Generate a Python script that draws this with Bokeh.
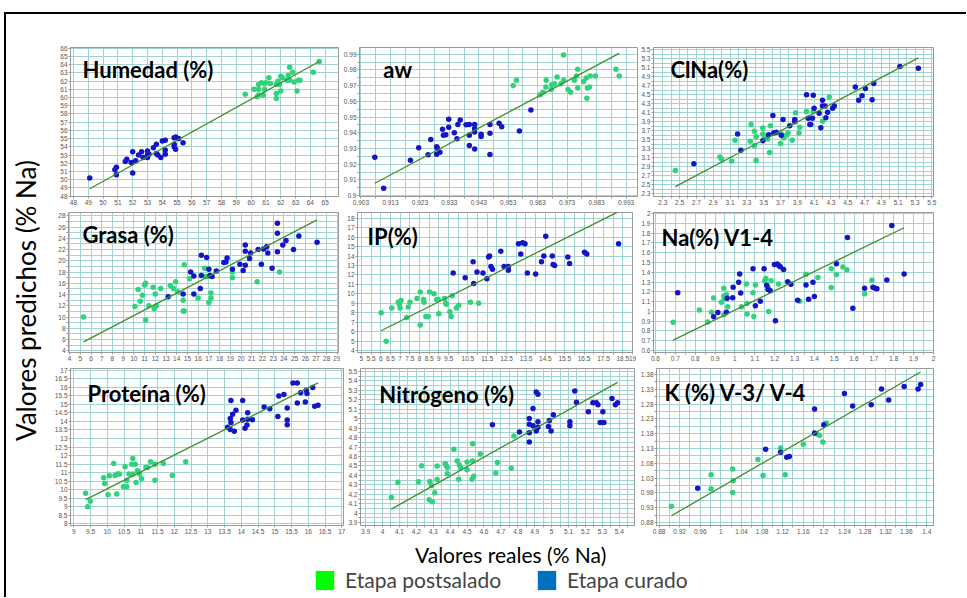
import math
from bokeh.plotting import figure
from bokeh.layouts import row, column
from bokeh.models import (FixedTicker, CustomJSTickFormatter, Label, Range1d,
                          Legend, LegendItem, Spacer)
from bokeh.embed import file_html
from bokeh.resources import INLINE

# ---------------- data ----------------
# Humedad (%)
hum_post_x = [59.6, 60.2, 60.4, 60.5, 60.5, 60.5, 60.7, 60.8, 60.9, 60.9, 61.0, 61.2, 61.3, 61.7, 61.7, 61.7,
              61.8, 61.9, 62.0, 62.0, 62.1, 62.4, 62.5, 62.6, 62.6, 62.8, 62.9, 63.1, 63.2, 63.3, 64.2, 64.6]
hum_post_y = [60.4, 61.0, 60.1, 60.3, 61.0, 61.6, 61.8, 60.3, 61.7, 61.0, 61.8, 62.4, 61.7, 59.9, 60.5, 61.6,
              62.0, 61.6, 60.8, 62.6, 62.4, 62.1, 62.7, 63.7, 62.1, 63.1, 61.9, 60.8, 62.1, 62.1, 63.1, 64.4]
hum_cur_x = [49.1, 50.8, 50.9, 50.9, 51.5, 51.6, 52.0, 51.9, 52.0, 52.2, 52.4, 52.6, 52.7, 53.0, 53.0, 53.1, 53.4,
             53.6, 53.6, 53.7, 53.9, 54.0, 54.2, 54.2, 54.2, 54.8, 54.8, 54.8, 54.9, 54.9, 55.1, 55.4, 53.0]
hum_cur_y = [50.2, 51.2, 51.5, 50.6, 52.2, 52.5, 53.4, 52.1, 50.8, 52.3, 53.0, 53.4, 52.7, 52.7, 53.5, 53.1, 53.9,
             53.2, 54.3, 53.0, 52.7, 54.7, 54.8, 53.6, 53.1, 55.1, 54.3, 54.0, 55.2, 53.7, 55.0, 54.5, 53.0]
hum_fit_x = [49.1, 64.6]
hum_fit_y = [48.9, 64.4]
hum_xticks = [48, 49, 50, 51, 52, 53, 54, 55, 56, 57, 58, 59, 60, 61, 62, 63, 64, 65]
hum_yticks = [48, 49, 50, 51, 52, 53, 54, 55, 56, 57, 58, 59, 60, 61, 62, 63, 64, 65, 66]

# aw
aw_post_x = [0.9547, 0.9558, 0.9638, 0.9648, 0.9658, 0.9659, 0.9676, 0.9678, 0.9687, 0.9696, 0.9709, 0.9718,
             0.9718, 0.9733, 0.9742, 0.9755, 0.9762, 0.9766, 0.9766, 0.9786, 0.9795, 0.9797, 0.9799, 0.9806,
             0.9808, 0.9826, 0.9896, 0.9907]
aw_post_y = [0.9702, 0.9734, 0.9642, 0.9659, 0.9691, 0.9734, 0.9676, 0.9706, 0.9712, 0.9755, 0.9712, 0.9734,
             0.9895, 0.9676, 0.9659, 0.9734, 0.9762, 0.9805, 0.9685, 0.9727, 0.9749, 0.9620, 0.9685, 0.9691,
             0.9762, 0.9762, 0.9805, 0.9762]
aw_cur_x = [0.9077, 0.9107, 0.9198, 0.9226, 0.9258, 0.9267, 0.9287, 0.9289, 0.9287, 0.9298, 0.9307, 0.9310,
            0.9318, 0.9328, 0.9328, 0.9347, 0.9356, 0.9359, 0.9367, 0.9387, 0.9398, 0.9398, 0.9398, 0.9416,
            0.9416, 0.9416, 0.9416, 0.9438, 0.9438, 0.9468, 0.9468, 0.9468, 0.9499, 0.9508, 0.9568, 0.9607]
aw_cur_y = [0.9245, 0.9047, 0.9225, 0.9305, 0.9260, 0.9358, 0.9311, 0.9303, 0.9264, 0.9277, 0.9423, 0.9384,
            0.9388, 0.9487, 0.9436, 0.9401, 0.9363, 0.9453, 0.9481, 0.9451, 0.9453, 0.9384, 0.9320, 0.9453,
            0.9427, 0.9406, 0.9298, 0.9391, 0.9376, 0.9453, 0.9397, 0.9262, 0.9461, 0.9438, 0.9412, 0.9545]
aw_fit_x = [0.9077, 0.9907]
aw_fit_y = [0.9079, 0.9906]
aw_xticks = [0.903, 0.913, 0.923, 0.933, 0.943, 0.953, 0.963, 0.973, 0.983, 0.993]
aw_xminor = [0.908, 0.918, 0.928, 0.938, 0.948, 0.958, 0.968, 0.978, 0.988]
aw_yticks = [0.90, 0.91, 0.92, 0.93, 0.94, 0.95, 0.96, 0.97, 0.98, 0.99]
aw_yminor = [0.905, 0.915, 0.925, 0.935, 0.945, 0.955, 0.965, 0.975, 0.985]

# ClNa(%)
cl_post_x = [2.45, 2.98, 3.00, 3.12, 3.16, 3.34, 3.35, 3.39, 3.39, 3.41, 3.41, 3.49, 3.49, 3.51, 3.55, 3.57,
             3.58, 3.70, 3.71, 3.74, 3.77, 3.79, 3.84, 3.88, 3.92, 3.93, 4.01, 4.09, 4.20, 4.28]
cl_post_y = [2.82, 3.12, 3.07, 3.03, 3.49, 3.47, 3.84, 3.69, 3.37, 3.57, 3.04, 3.76, 3.63, 3.57, 3.52, 3.22,
             3.81, 3.42, 3.63, 3.54, 3.60, 3.65, 3.49, 4.10, 3.65, 3.78, 4.13, 4.13, 3.91, 4.45]
cl_cur_x = [2.67, 3.19, 3.23, 3.49, 3.56, 3.61, 3.62, 3.65, 3.71, 3.73, 3.81, 3.87, 3.87, 4.01, 4.03, 4.05,
            4.06, 4.08, 4.09, 4.10, 4.16, 4.18, 4.20, 4.20, 4.23, 4.24, 4.26, 4.32, 4.34, 4.59, 4.63, 4.67,
            4.71, 4.79, 4.81, 5.12, 5.34]
cl_cur_y = [2.97, 3.63, 3.27, 3.48, 3.61, 4.04, 3.65, 3.67, 3.60, 3.95, 3.81, 3.95, 3.90, 4.50, 3.98, 3.84,
            3.84, 3.98, 4.49, 4.20, 4.09, 3.77, 4.38, 4.25, 4.25, 3.99, 4.11, 4.20, 4.25, 4.67, 4.38, 4.48,
            4.64, 4.39, 4.75, 5.13, 5.09]
cl_fit_x = [2.45, 5.34]
cl_fit_y = [2.46, 5.32]
cl_ticks = [2.3, 2.5, 2.7, 2.9, 3.1, 3.3, 3.5, 3.7, 3.9, 4.1, 4.3, 4.5, 4.7, 4.9, 5.1, 5.3, 5.5]
cl_minor = [2.4, 2.6, 2.8, 3.0, 3.2, 3.4, 3.6, 3.8, 4.0, 4.2, 4.4, 4.6, 4.8, 5.0, 5.2, 5.4]

# Grasa (%)
gr_post_x = [5.3, 10.1, 10.4, 10.6, 10.8, 11.0, 11.1, 11.1, 11.4, 11.8, 11.9, 12.0, 12.1, 12.5, 13.4, 13.7,
             13.9, 14.1, 14.6, 14.7, 14.6, 14.7, 15.2, 16.0, 16.6, 16.7, 16.9, 17.0, 17.2, 17.2, 19.2, 19.2,
             21.5, 23.6]
gr_post_y = [10.0, 11.9, 14.9, 12.8, 13.9, 15.7, 16.0, 9.5, 12.0, 15.3, 11.5, 14.1, 12.0, 15.1, 15.6, 15.1,
             16.3, 14.5, 11.1, 11.1, 13.0, 19.3, 16.8, 13.4, 18.7, 17.2, 17.2, 12.6, 14.3, 13.4, 17.0, 18.0,
             16.3, 18.0]
gr_cur_x = [13.2, 14.6, 15.3, 15.6, 15.6, 16.3, 16.3, 16.2, 16.8, 17.0, 17.1, 17.3, 17.7, 18.4, 18.6, 18.7,
            19.2, 19.9, 20.2, 20.4, 20.4, 20.4, 20.8, 20.9, 21.6, 21.9, 22.1, 22.4, 22.5, 22.9, 23.4, 23.4,
            23.4, 23.9, 24.2, 24.9, 25.4, 27.1]
gr_cur_y = [13.6, 14.1, 18.0, 17.3, 14.1, 21.0, 17.4, 15.1, 20.6, 18.5, 17.4, 17.2, 18.2, 19.7, 19.8, 20.5,
            18.5, 19.4, 18.3, 22.8, 21.7, 19.2, 20.4, 21.4, 22.0, 19.4, 22.1, 22.5, 21.4, 18.7, 26.7, 24.9,
            21.6, 22.8, 23.6, 22.0, 24.4, 23.3]
gr_fit_x = [5.3, 27.1]
gr_fit_y = [5.6, 27.3]
gr_xticks = [4, 5, 6, 7, 8, 9, 10, 11, 12, 13, 14, 15, 16, 17, 18, 19, 20, 21, 22, 23, 24, 25, 26, 27, 28, 29]
gr_yticks = [4, 6, 8, 10, 12, 14, 16, 18, 20, 22, 24, 26, 28]
gr_yminor = [5, 7, 9, 11, 13, 15, 17, 19, 21, 23, 25, 27]

# IP(%)
ip_post_x = [6.02, 6.28, 6.57, 6.91, 6.96, 7.00, 7.05, 7.34, 7.42, 7.51, 7.87, 8.04, 8.04, 8.21, 8.24, 8.33,
             8.45, 8.52, 8.75, 8.89, 8.97, 9.00, 9.30, 9.35, 9.40, 9.57, 9.64, 9.69, 9.91, 10.03, 10.63, 11.06]
ip_post_y = [8.0, 5.0, 8.5, 9.1, 8.9, 8.5, 9.3, 7.5, 8.6, 9.1, 9.5, 10.2, 6.7, 9.4, 9.1, 7.6,
             7.6, 10.2, 10.0, 9.4, 9.4, 7.9, 9.5, 9.0, 8.9, 8.1, 7.6, 9.8, 8.5, 8.8, 9.1, 9.0]
ip_cur_x = [9.74, 10.36, 10.77, 10.80, 10.97, 11.28, 11.48, 11.57, 11.62, 11.69, 11.77, 12.20, 12.37, 12.59,
            12.59, 13.11, 13.23, 13.33, 13.45, 13.57, 14.00, 14.30, 14.42, 14.52, 14.86, 14.90, 14.98, 15.66,
            15.75, 16.52, 16.64, 18.28]
ip_cur_y = [12.2, 11.7, 13.4, 11.1, 12.3, 12.2, 11.6, 13.9, 14.0, 12.9, 12.6, 14.5, 12.9, 12.9,
            12.5, 15.3, 14.2, 15.4, 15.3, 12.2, 12.1, 13.4, 14.0, 16.1, 14.0, 13.1, 13.0, 13.9,
            13.2, 14.4, 14.2, 15.3]
ip_fit_x = [6.02, 18.28]
ip_fit_y = [6.1, 18.7]
ip_xticks = [5, 5.5, 6, 6.5, 7, 7.5, 8, 8.5, 9, 9.5, 10, 10.5, 11, 11.5, 12, 12.5, 13, 13.5, 14, 14.5,
             15, 15.5, 16, 16.5, 17, 17.5, 18, 18.5, 19]
ip_yticks = [4, 5, 6, 7, 8, 9, 10, 11, 12, 13, 14, 15, 16, 17, 18]

# Na(%) V1-4
na_post_x = [0.689, 0.821, 0.863, 0.882, 0.893, 0.932, 0.944, 0.944, 0.947, 0.944, 0.957, 0.964, 1.033, 1.058,
             1.061, 1.061, 1.091, 1.095, 1.103, 1.150, 1.156, 1.167, 1.170, 1.182, 1.220, 1.326, 1.358, 1.418,
             1.485, 1.485, 1.511, 1.544, 1.564, 1.653, 1.690]
na_post_y = [0.889, 1.015, 0.892, 0.991, 1.137, 1.094, 1.237, 1.157, 1.131, 0.965, 1.171, 1.048, 1.048, 1.280,
             1.081, 0.972, 1.190, 0.948, 1.270, 1.313, 1.337, 1.247, 0.998, 1.313, 1.280, 1.104, 1.380, 1.347,
             1.436, 1.244, 1.376, 1.453, 1.426, 1.181, 1.317]
na_cur_x = [0.712, 0.893, 0.914, 0.957, 0.961, 0.991, 0.989, 1.019, 1.024, 1.029, 1.091, 1.103, 1.128, 1.147,
            1.160, 1.167, 1.178, 1.199, 1.204, 1.213, 1.221, 1.228, 1.245, 1.266, 1.282, 1.316, 1.358, 1.371,
            1.393, 1.400, 1.511, 1.567, 1.594, 1.653, 1.695, 1.707, 1.715, 1.765, 1.790, 1.852]
na_cur_y = [1.190, 0.945, 0.988, 0.990, 1.134, 1.247, 1.140, 1.297, 1.383, 1.187, 1.436, 1.058, 1.104, 1.436,
            1.267, 1.224, 1.210, 1.479, 0.905, 1.483, 1.469, 1.456, 1.429, 1.303, 1.277, 1.114, 1.270, 1.124,
            1.297, 1.151, 1.486, 1.755, 1.031, 1.237, 1.247, 1.237, 1.230, 1.320, 1.877, 1.383]
na_fit_x = [0.689, 1.852]
na_fit_y = [0.706, 1.854]
na_xticks = [0.6, 0.7, 0.8, 0.9, 1.0, 1.1, 1.2, 1.3, 1.4, 1.5, 1.6, 1.7, 1.8, 1.9, 2.0]
na_xminor = [0.65, 0.75, 0.85, 0.95, 1.05, 1.15, 1.25, 1.35, 1.45, 1.55, 1.65, 1.75, 1.85, 1.95]
na_yticks = [0.6, 0.7, 0.8, 0.9, 1.0, 1.1, 1.2, 1.3, 1.4, 1.5, 1.6, 1.7, 1.8, 1.9, 2.0]

# Proteína (%)
pr_post_x = [9.35, 9.41, 9.49, 9.89, 9.92, 10.02, 10.06, 10.19, 10.23, 10.28, 10.30, 10.36, 10.48, 10.53,
             10.58, 10.58, 10.65, 10.73, 10.76, 10.76, 10.83, 10.86, 10.90, 10.96, 11.02, 11.15, 11.20, 11.29,
             11.42, 11.42, 11.67, 11.94, 12.34]
pr_post_y = [9.79, 9.00, 9.32, 10.70, 10.36, 9.70, 10.81, 11.53, 10.83, 9.74, 10.92, 10.92, 10.17, 11.34,
             10.17, 10.55, 10.92, 11.49, 11.83, 10.92, 11.49, 10.42, 11.11, 10.92, 10.64, 11.30, 11.30, 11.64,
             10.55, 11.49, 11.53, 10.83, 11.64]
pr_cur_x = [13.59, 13.67, 13.67, 13.69, 13.69, 13.74, 13.79, 13.84, 14.04, 14.04, 14.11, 14.17, 14.19, 14.19,
            14.33, 14.68, 14.85, 15.09, 15.12, 15.27, 15.37, 15.37, 15.37, 15.54, 15.67, 15.67, 15.77, 15.91,
            15.94, 15.96, 16.13, 16.19, 16.29]
pr_cur_y = [13.66, 14.17, 13.53, 15.23, 13.94, 14.42, 13.42, 14.66, 15.23, 14.08, 13.60, 13.79, 14.51, 14.13,
            14.09, 14.85, 14.74, 14.28, 15.49, 15.58, 14.79, 14.08, 13.81, 16.25, 16.25, 15.08, 15.68, 15.13,
            15.83, 15.64, 15.98, 14.89, 14.94]
pr_fit_x = [9.35, 16.29]
pr_fit_y = [9.42, 16.26]
pr_xticks = [9, 9.5, 10, 10.5, 11, 11.5, 12, 12.5, 13, 13.5, 14, 14.5, 15, 15.5, 16, 16.5, 17]
pr_yticks = [8, 8.5, 9, 9.5, 10, 10.5, 11, 11.5, 12, 12.5, 13, 13.5, 14, 14.5, 15, 15.5, 16, 16.5, 17]

# Nitrógeno (%)
ni_post_x = [4.052, 4.091, 4.212, 4.231, 4.276, 4.280, 4.290, 4.294, 4.309, 4.323, 4.323, 4.371, 4.377, 4.383,
             4.383, 4.422, 4.442, 4.451, 4.455, 4.461, 4.500, 4.500, 4.529, 4.533, 4.533, 4.539, 4.578, 4.670,
             4.679, 4.761, 4.777]
ni_post_y = [4.166, 4.326, 4.332, 4.502, 4.143, 4.336, 4.293, 4.120, 4.216, 4.356, 4.499, 4.525, 4.502, 4.482,
             4.416, 4.675, 4.552, 4.359, 4.509, 4.482, 4.459, 4.542, 4.359, 4.735, 4.552, 4.392, 4.625, 4.426,
             4.535, 4.476, 4.815]
ni_cur_x = [4.650, 4.810, 4.868, 4.868, 4.868, 4.868, 4.890, 4.890, 4.909, 4.909, 4.919, 4.919, 4.919, 4.981,
            4.987, 4.997, 5.010, 5.108, 5.108, 5.137, 5.147, 5.217, 5.244, 5.264, 5.274, 5.287, 5.303, 5.309,
            5.357, 5.377, 5.390]
ni_cur_y = [4.935, 4.858, 5.001, 4.941, 4.851, 4.752, 5.108, 4.925, 5.281, 4.868, 5.257, 4.968, 4.908, 4.918,
            4.981, 4.868, 5.041, 4.968, 4.925, 5.291, 5.174, 5.074, 5.167, 5.167, 5.147, 4.958, 5.074, 4.958,
            5.214, 5.147, 5.167]
ni_fit_x = [4.052, 5.39]
ni_fit_y = [4.043, 5.384]
ni_xticks = [3.9, 4.0, 4.1, 4.2, 4.3, 4.4, 4.5, 4.6, 4.7, 4.8, 4.9, 5.0, 5.1, 5.2, 5.3, 5.4]
ni_xminor = [3.95, 4.05, 4.15, 4.25, 4.35, 4.45, 4.55, 4.65, 4.75, 4.85, 4.95, 5.05, 5.15, 5.25, 5.35, 5.45]
ni_yticks = [3.9, 4.0, 4.1, 4.2, 4.3, 4.4, 4.5, 4.6, 4.7, 4.8, 4.9, 5.0, 5.1, 5.2, 5.3, 5.4, 5.5]
ni_yminor = [3.95, 4.05, 4.15, 4.25, 4.35, 4.45, 4.55, 4.65, 4.75, 4.85, 4.95, 5.05, 5.15, 5.25, 5.35, 5.45]

# K (%) V-3/ V-4
k_post_x = [0.904, 0.981, 0.981, 1.023, 1.024, 1.023, 1.072, 1.082, 1.116, 1.125, 1.160, 1.187, 1.192, 1.198, 1.205]
k_post_y = [0.935, 1.041, 0.994, 1.061, 1.021, 0.981, 1.093, 1.039, 1.132, 1.041, 1.144, 1.178, 1.174, 1.152, 1.216]
k_cur_x = [0.955, 1.087, 1.116, 1.128, 1.133, 1.182, 1.182, 1.200, 1.240, 1.256, 1.292, 1.312, 1.326, 1.356,
           1.383, 1.388]
k_cur_y = [0.996, 1.127, 1.117, 1.100, 1.103, 1.263, 1.182, 1.210, 1.316, 1.273, 1.278, 1.331, 1.294, 1.339,
           1.331, 1.346]
k_fit_x = [0.904, 1.388]
k_fit_y = [0.903, 1.388]
k_xticks = [0.88, 0.92, 0.96, 1.0, 1.04, 1.08, 1.12, 1.16, 1.2, 1.24, 1.28, 1.32, 1.36, 1.4]
k_xminor = [0.90, 0.94, 0.98, 1.02, 1.06, 1.10, 1.14, 1.18, 1.22, 1.26, 1.30, 1.34, 1.38]
k_yticks = [0.88, 0.93, 0.98, 1.03, 1.08, 1.13, 1.18, 1.23, 1.28, 1.33, 1.38]
k_yminor = [0.905, 0.955, 1.005, 1.055, 1.105, 1.155, 1.205, 1.255, 1.305, 1.355]

y_title = "Valores predichos (% Na)"
x_title = "Valores reales (% Na)"
legend_labels = ["Etapa postsalado", "Etapa curado"]

# ---------------- style ----------------
GREEN = "#2fd37b"
BLUE = "#1515c8"
FIT = "#3f8f2c"
GRID = "#a3d3d3"
FRAME = "#9a9a9a"
LEG_GREEN = "#00ff00"
LEG_BLUE = "#0070c0"
TXT_FONT = "Lato"
BOLD_FONT = "Lato"

FMT = "var v = Math.round(tick*100000)/100000; return String(v);"
FMT_IP = ("var v = Math.round(tick*100000)/100000;"
          "if (v >= 10 && v <= 18 && Math.abs(v - Math.round(v)) < 1e-6) return ''; return String(v);")


def panel(w, h, bl, br, bt, bb, xr, yr, xt, xm, yt, ym, title, tdx, tdy,
          post_x, post_y, cur_x, cur_y, fit_x, fit_y, xfmt=FMT):
    p = figure(width=w, height=h, x_range=Range1d(*xr), y_range=Range1d(*yr),
               toolbar_location=None, output_backend="svg", title=None,
               min_border_left=bl, min_border_right=br, min_border_top=bt, min_border_bottom=bb)
    p.xaxis.ticker = FixedTicker(ticks=xt, minor_ticks=xm)
    p.yaxis.ticker = FixedTicker(ticks=yt, minor_ticks=ym)
    p.xaxis.formatter = CustomJSTickFormatter(code=xfmt)
    p.yaxis.formatter = CustomJSTickFormatter(code=FMT)
    for g in (p.xgrid, p.ygrid):
        g.grid_line_color = GRID
        g.minor_grid_line_color = GRID
        g.grid_line_width = 1
        g.minor_grid_line_width = 1
    p.axis.major_label_text_font_size = "6.5px"
    p.axis.major_label_text_color = "#555555"
    p.axis.major_label_text_font = "Liberation Sans"
    p.axis.axis_line_color = FRAME
    p.axis.major_tick_line_color = FRAME
    p.axis.minor_tick_line_color = FRAME
    p.axis.major_tick_out = 2
    p.axis.major_tick_in = 0
    p.axis.minor_tick_out = 2
    p.axis.minor_tick_in = 0
    p.axis.major_label_standoff = 1
    p.outline_line_color = FRAME
    p.background_fill_color = "white"
    p.border_fill_color = "white"

    p.scatter(post_x, post_y, marker="circle", size=5.5, fill_color=GREEN, line_color=None)
    p.scatter(cur_x, cur_y, marker="circle", size=5.5, fill_color=BLUE, line_color=None)
    p.line(fit_x, fit_y, line_color=FIT, line_width=1.3)

    fw = w - bl - br
    fh = h - bt - bb
    lx = xr[0] + tdx / fw * (xr[1] - xr[0])
    ly = yr[1] - tdy / fh * (yr[1] - yr[0])
    p.add_layout(Label(x=lx, y=ly, text=title, text_font=BOLD_FONT, text_font_style="bold",
                       text_font_size="22px", text_color="black", text_baseline="alphabetic"))
    return p


# Row 1 (height 167)
f1 = panel(290, 167, 20, 2, 7, 11, (47.8, 65.9), (47.95, 66.1), hum_xticks, [], hum_yticks, [],
           "Humedad (%)", 12, 22, hum_post_x, hum_post_y, hum_cur_x, hum_cur_y, hum_fit_x, hum_fit_y)
f2 = panel(298, 167, 17, 1, 7, 11, (0.9025, 0.9969), (0.8995, 0.9943), aw_xticks, aw_xminor, aw_yticks, aw_yminor,
           "aw", 24, 22, aw_post_x, aw_post_y, aw_cur_x, aw_cur_y, aw_fit_x, aw_fit_y)
f3 = panel(321, 167, 14, 26, 7, 11, (2.19, 5.52), (2.24, 5.55), cl_ticks, cl_minor, cl_ticks, cl_minor,
           "ClNa(%)", 17, 22, cl_post_x, cl_post_y, cl_cur_x, cl_cur_y, cl_fit_x, cl_fit_y)
# Row 2 (height 157)
f4 = panel(290, 157, 18, 2, 3, 11, (3.9, 29.1), (3.7, 28.6), gr_xticks, [], gr_yticks, gr_yminor,
           "Grasa (%)", 14, 22, gr_post_x, gr_post_y, gr_cur_x, gr_cur_y, gr_fit_x, gr_fit_y)
f5 = panel(298, 157, 17, 6, 1, 12, (4.8, 19.0), (3.8, 18.6), ip_xticks, [], ip_yticks, [],
           "IP(%)", 10, 25, ip_post_x, ip_post_y, ip_cur_x, ip_cur_y, ip_fit_x, ip_fit_y, xfmt=FMT_IP)
f6 = panel(321, 157, 14, 26, 5, 11, (0.59, 2.0), (0.58, 2.01), na_xticks, na_xminor, na_yticks, [],
           "Na(%) V1-4", 8, 25, na_post_x, na_post_y, na_cur_x, na_cur_y, na_fit_x, na_fit_y)
# Row 3 (height 177)
f7 = panel(295, 177, 20, 2, 4, 13, (8.9, 17.05), (7.9, 17.1), pr_xticks, [], pr_yticks, [],
           "Proteína (%)", 17, 25, pr_post_x, pr_post_y, pr_cur_x, pr_cur_y, pr_fit_x, pr_fit_y)
f8 = panel(292, 177, 13, 3, 2, 11, (3.87, 5.49), (3.87, 5.53), ni_xticks, ni_xminor, ni_yticks, ni_yminor,
           "Nitrógeno (%)", 19, 27, ni_post_x, ni_post_y, ni_cur_x, ni_cur_y, ni_fit_x, ni_fit_y)
f9 = panel(322, 177, 16, 26, 3, 16, (0.875, 1.413), (0.87, 1.40), k_xticks, k_xminor, k_yticks, k_yminor,
           "K (%) V-3/ V-4", 8, 24, k_post_x, k_post_y, k_cur_x, k_cur_y, k_fit_x, k_fit_y)


def blank(w, h):
    p = figure(width=w, height=h, x_range=Range1d(0, 1), y_range=Range1d(0, 1),
               toolbar_location=None, output_backend="svg", title=None, min_border=0)
    p.axis.visible = False
    p.grid.visible = False
    p.outline_line_color = None
    return p


ylab = blank(44, 501)
ylab.add_layout(Label(x=0.45, y=0.481, text=y_title, angle=math.pi / 2, text_align="center",
                      text_baseline="middle", text_font=TXT_FONT, text_font_size="26px", text_color="black"))

xlab = blank(953, 26)
xlab.add_layout(Label(x=0.529, y=0.5, text=x_title, text_align="center", text_baseline="middle",
                      text_font=TXT_FONT, text_font_size="21px", text_color="black"))

# legend proxies: the two series' data, drawn outside this strip's visible range
leg = blank(953, 30)
r1 = leg.vbar(x=hum_post_x, top=hum_post_y, width=0.5, fill_color=LEG_GREEN, line_color=None)
r2 = leg.vbar(x=hum_cur_x, top=hum_cur_y, width=0.5, fill_color=LEG_BLUE, line_color=None)
legend = Legend(items=[LegendItem(label=legend_labels[0], renderers=[r1]),
                       LegendItem(label=legend_labels[1], renderers=[r2])],
                orientation="horizontal", location=(307, 5), glyph_width=23, glyph_height=24,
                label_text_font=TXT_FONT, label_text_font_size="21px", label_height=24,
                label_text_baseline="middle",
                border_line_color=None, background_fill_alpha=0, padding=0, margin=0,
                spacing=34, label_standoff=9)
leg.add_layout(legend)

grid_rows = column(row(f1, f2, f3), row(f4, f5, f6), row(f7, f8, f9))
main = row(ylab, grid_rows)
outer = column(Spacer(width=960, height=26), main, xlab, leg,
               styles={"border-top": "2px solid black", "border-left": "2px solid black",
                       "margin-top": "12px", "margin-left": "4px"})

open("out.html", "w").write(file_html(outer, INLINE))
